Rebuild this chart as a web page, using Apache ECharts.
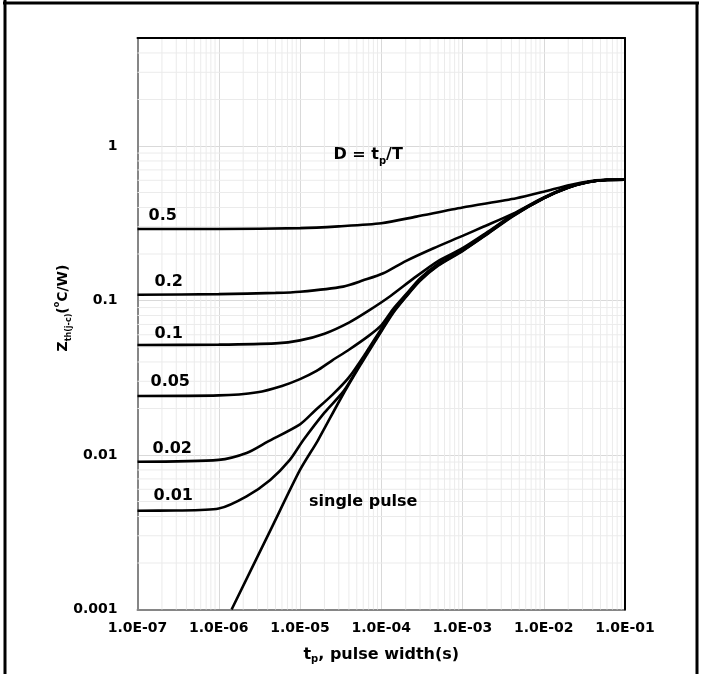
<!DOCTYPE html>
<html><head><meta charset="utf-8">
<script src="https://cdn.jsdelivr.net/npm/echarts@6/dist/echarts.min.js"></script>
<style>html,body{margin:0;padding:0;background:#fff}#c{width:702px;height:674px}</style>
</head><body><div id="c"></div>
<script>
// ---- tick labels ----
const xTickLabels = ['1.0E-07','1.0E-06','1.0E-05','1.0E-04','1.0E-03','1.0E-02','1.0E-01'];
const yTickLabels = ['0.001','0.01','0.1','1'];
// ---- curve names ----
const curveNames = ['0.5','0.2','0.1','0.05','0.02','0.01','single pulse'];
// ---- series values [t (s), Zth (°C/W)] ----
const d05 = [[1e-7,0.29],[1e-6,0.29],[1e-5,0.294],[3e-5,0.302],[1e-4,0.316],[2.7e-4,0.349],[1e-3,0.40],[4.6e-3,0.459],[1e-2,0.506],[2.1e-2,0.56],[4e-2,0.596],[6e-2,0.604],[1e-1,0.605]];
const d02 = [[1e-7,0.109],[1e-6,0.110],[5e-6,0.112],[1e-5,0.114],[3.4e-5,0.123],[6e-5,0.135],[1.06e-4,0.150],[2e-4,0.180],[4.4e-4,0.218],[1e-3,0.262],[1.8e-3,0.30],[4.2e-3,0.365],[1e-2,0.465],[2e-2,0.54],[3.5e-2,0.585],[6e-2,0.604],[1e-1,0.605]];
const d01 = [[1e-7,0.0515],[1e-6,0.0518],[5e-6,0.0528],[1e-5,0.0552],[2e-5,0.061],[4e-5,0.072],[7e-5,0.086],[1.3e-4,0.107],[2.5e-4,0.139],[5e-4,0.18],[1e-3,0.218],[2e-3,0.276],[4.2e-3,0.359],[1e-2,0.462],[2e-2,0.54],[3.5e-2,0.585],[6e-2,0.604],[1e-1,0.605]];
const d005 = [[1e-7,0.0241],[1e-6,0.0243],[3e-6,0.0255],[6e-6,0.028],[1e-5,0.031],[1.6e-5,0.035],[2.5e-5,0.041],[4e-5,0.048],[7e-5,0.059],[1e-4,0.069],[1.4e-4,0.088],[2e-4,0.109],[3e-4,0.139],[5e-4,0.173],[1e-3,0.214],[2e-3,0.273],[4.2e-3,0.357],[1e-2,0.461],[2e-2,0.539],[3.5e-2,0.584],[6e-2,0.603],[1e-1,0.605]];
const d002 = [[1e-7,0.00905],[1e-6,0.0093],[2.2e-6,0.0103],[4e-6,0.0122],[1e-5,0.0158],[1.5e-5,0.0192],[2.5e-5,0.0245],[4e-5,0.0318],[6.5e-5,0.046],[1e-4,0.0655],[1.4e-4,0.0855],[2e-4,0.107],[3e-4,0.137],[5e-4,0.171],[1e-3,0.212],[2e-3,0.271],[4.2e-3,0.355],[1e-2,0.46],[2e-2,0.538],[3.5e-2,0.584],[6e-2,0.603],[1e-1,0.605]];
const d001 = [[1e-7,0.00436],[3e-7,0.00437],[1e-6,0.0045],[2.2e-6,0.0054],[4.3e-6,0.0069],[7.5e-6,0.0093],[1.1e-5,0.0125],[2e-5,0.0188],[3.5e-5,0.0262],[6e-5,0.042],[1e-4,0.0638],[1.4e-4,0.0842],[2e-4,0.106],[3e-4,0.1355],[5e-4,0.1695],[1e-3,0.2105],[2e-3,0.2695],[4.2e-3,0.3535],[1e-2,0.459],[2e-2,0.5375],[3.5e-2,0.5835],[6e-2,0.603],[1e-1,0.605]];
const dSingle = [[1.44e-6,0.001],[4.5e-6,0.0034],[1e-5,0.0080],[1.67e-5,0.0125],[3.1e-5,0.0227],[5.5e-5,0.038],[1e-4,0.063],[1.4e-4,0.083],[2e-4,0.105],[3e-4,0.134],[5e-4,0.168],[1e-3,0.209],[2e-3,0.268],[4.2e-3,0.352],[1e-2,0.458],[2e-2,0.537],[3.5e-2,0.583],[6e-2,0.603],[1e-1,0.605]];
// annotation anchors (data space)
const noteSingle = [6.0e-5, 0.00496];
const noteD = [6.9e-5, 0.875];

const FONT = 'DejaVu Sans';
const allData = [d05, d02, d01, d005, d002, d001, dSingle];
const X_MIN = 1e-7, X_MAX = 0.1, Y_MIN = 0.001, Y_MAX = 5;

// minor grid values (2..9 within each decade)
const xMinor = [];
for (let e = -7; e <= -2; e++) for (let k = 2; k <= 9; k++) xMinor.push(k * Math.pow(10, e));
const yMinor = [];
for (let e = -3; e <= 0; e++) for (let k = 2; k <= 9; k++) { const v = k * Math.pow(10, e); if (v < Y_MAX) yMinor.push(v); }

const labelOffsets = [[11,-13],[17,-13],[17,-11],[13,-14],[15,-13],[16,-15]];

const series = [];
// minor vertical grid
series.push({
  type: 'custom', coordinateSystem: 'cartesian2d', silent: true, z: 1, clip: false,
  data: xMinor.map(v => [v, Y_MIN]), encode: {x: 0, y: 1},
  renderItem: (p, api) => {
    const v = api.value(0);
    const a = api.coord([v, Y_MIN]), b = api.coord([v, Y_MAX]);
    return {type: 'line', shape: {x1: a[0], y1: a[1], x2: b[0], y2: b[1]}, style: {stroke: '#ebebeb', lineWidth: 1}};
  }
});
// minor horizontal grid
series.push({
  type: 'custom', coordinateSystem: 'cartesian2d', silent: true, z: 1, clip: false,
  data: yMinor.map(v => [X_MIN, v]), encode: {x: 0, y: 1},
  renderItem: (p, api) => {
    const v = api.value(1);
    const a = api.coord([X_MIN, v]), b = api.coord([X_MAX, v]);
    return {type: 'line', shape: {x1: a[0], y1: a[1], x2: b[0], y2: b[1]}, style: {stroke: '#ebebeb', lineWidth: 1}};
  }
});
// annotations
series.push({
  type: 'line', data: [], silent: true, z: 4,
  markPoint: {
    symbol: 'circle', symbolSize: 0, silent: true, animation: false,
    data: [
      {coord: noteSingle, label: {show: true, formatter: 'single pulse', color: '#000', fontFamily: FONT, fontWeight: 'bold', fontSize: 16, position: 'inside', align: 'center', verticalAlign: 'middle'}},
      {coord: noteD, label: {show: true, formatter: '{m|D = t}{s|p}{m|/T}', position: 'inside', align: 'center', verticalAlign: 'middle',
        rich: {
          m: {fontFamily: FONT, fontWeight: 'bold', fontSize: 16, color: '#000', lineHeight: 22, verticalAlign: 'middle'},
          s: {fontFamily: FONT, fontWeight: 'bold', fontSize: 10, color: '#000', lineHeight: 10, verticalAlign: 'bottom'}
        }}}
    ]
  }
});
allData.forEach((d, i) => {
  const s = {
    type: 'line', name: curveNames[i], data: d, showSymbol: false, symbol: 'none',
    smooth: 0.25, z: 3, silent: true,
    lineStyle: {color: '#000', width: 2.6}
  };
  if (i < 6) {
    s.markPoint = {
      symbol: 'circle', symbolSize: 0, silent: true, animation: false,
      data: [{coord: d[0], label: {show: true, formatter: curveNames[i], color: '#000', fontFamily: FONT, fontWeight: 'bold', fontSize: 16,
        position: 'inside', align: 'left', verticalAlign: 'middle', offset: labelOffsets[i]}}]
    };
  }
  series.push(s);
});

function xFmt(v) {
  const l = Math.log10(v), e = Math.round(l);
  if (Math.abs(l - e) > 1e-6) return '';
  return xTickLabels[e + 7] || '';
}
function yFmt(v) {
  const l = Math.log10(v), e = Math.round(l);
  if (Math.abs(l - e) > 1e-6) return '';
  return yTickLabels[e + 3] || '';
}

const option = {
  animation: false,
  backgroundColor: '#fff',
  grid: {left: 137.5, right: 77, top: 38, bottom: 64.5, containLabel: false},
  xAxis: [
    {type: 'log', logBase: 10, min: X_MIN, max: X_MAX,
     axisLine: {show: true, lineStyle: {color: '#868686', width: 2}},
     axisTick: {show: false},
     axisLabel: {formatter: xFmt, margin: 12, color: '#000', fontFamily: FONT, fontWeight: 'bold', fontSize: 14, showMinLabel: true, showMaxLabel: true},
     splitLine: {show: true, lineStyle: {color: '#d9d9d9', width: 1}},
     name: '{m|t}{s|p}{m|, pulse width(s)}', nameLocation: 'middle', nameGap: 35,
     nameTextStyle: {rich: {
       m: {fontFamily: FONT, fontWeight: 'bold', fontSize: 16, color: '#000', lineHeight: 20, verticalAlign: 'middle'},
       s: {fontFamily: FONT, fontWeight: 'bold', fontSize: 10, color: '#000', lineHeight: 10, verticalAlign: 'bottom'}
     }}
    },
    {type: 'log', logBase: 10, min: X_MIN, max: X_MAX, position: 'top', z: 5,
     axisLine: {show: true, onZero: false, lineStyle: {color: '#000', width: 2}},
     axisTick: {show: false}, axisLabel: {show: false}, splitLine: {show: false}}
  ],
  yAxis: [
    {type: 'log', logBase: 10, min: Y_MIN, max: Y_MAX,
     axisLine: {show: true, lineStyle: {color: '#868686', width: 2}},
     axisTick: {show: false},
     axisLabel: {formatter: yFmt, margin: 20, color: '#000', fontFamily: FONT, fontWeight: 'bold', fontSize: 14, showMaxLabel: false},
     splitLine: {show: true, lineStyle: {color: '#d9d9d9', width: 1}}
    },
    {type: 'log', logBase: 10, min: Y_MIN, max: Y_MAX, position: 'right', z: 5,
     axisLine: {show: true, onZero: false, lineStyle: {color: '#000', width: 2}},
     axisTick: {show: false}, axisLabel: {show: false}, splitLine: {show: false}}
  ],
  graphic: [
    {type: 'line', silent: true, z: 100, shape: {x1: 3, y1: 3, x2: 699, y2: 3}, style: {stroke: '#000', lineWidth: 3}},
    {type: 'line', silent: true, z: 100, shape: {x1: 5, y1: 0, x2: 5, y2: 674}, style: {stroke: '#000', lineWidth: 3}},
    {type: 'line', silent: true, z: 100, shape: {x1: 697, y1: 3, x2: 697, y2: 674}, style: {stroke: '#000', lineWidth: 3}},
    {type: 'text', silent: true, z: 100, x: 63, y: 308, rotation: Math.PI / 2,
     style: {text: '{m|Z}{s|th(j-c)}{m|(}{u|o}{m|C/W)}', align: 'center', verticalAlign: 'middle',
       rich: {
         m: {fontFamily: FONT, fontWeight: 'bold', fontSize: 14, fill: '#000', lineHeight: 20, verticalAlign: 'middle'},
         s: {fontFamily: FONT, fontWeight: 'bold', fontSize: 8, fill: '#000', lineHeight: 8, verticalAlign: 'bottom'},
         u: {fontFamily: FONT, fontWeight: 'bold', fontSize: 8, fill: '#000', lineHeight: 10, verticalAlign: 'top'}
       }}}
  ],
  series: series
};
const chart = echarts.init(document.getElementById('c'), null, {renderer: 'canvas'});
chart.setOption(option);
</script>
</body></html>
